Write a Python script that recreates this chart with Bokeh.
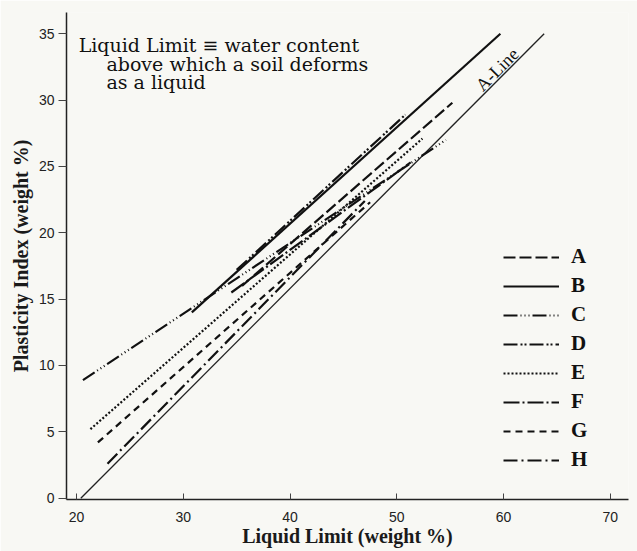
from bokeh.plotting import figure
from bokeh.models import Range1d, Label, Legend, LegendItem, FixedTicker
from bokeh.embed import file_html
from bokeh.resources import INLINE

# ---- data ----
series = ["A", "B", "C", "D", "E", "F", "G", "H"]
ll_start = [35.5, 30.8, 20.6, 35.0, 21.3, 34.5, 22.0, 22.9]
pi_start = [16.0, 14.0, 8.9, 17.2, 5.2, 15.5, 4.2, 2.6]
ll_end = [55.2, 59.7, 54.6, 50.8, 52.4, 51.3, 47.5, 47.0]
pi_end = [29.8, 35.0, 27.0, 28.9, 27.1, 25.3, 22.3, 22.4]
aline_ll = [20.4, 63.8]
aline_pi = [0.0, 35.0]
x_ticks = [20, 30, 40, 50, 60, 70]
y_ticks = [0, 5, 10, 15, 20, 25, 30, 35]

dashes = ["12 4", "solid", "14 3 1 3 1 3 1 3", "14 3 2 2 2 3",
          "2 2", "16 3 2 3", "7 5", "14 4 2 4"]

BG = "#f8f8f4"
SERIF = "Liberation Serif"
SANS = "Liberation Sans"

p = figure(width=637, height=551, output_backend="svg", toolbar_location=None,
           x_range=Range1d(19.06, 71.7), y_range=Range1d(-0.1, 36.6),
           min_border_left=66, min_border_right=9, min_border_top=12,
           min_border_bottom=52)
p.background_fill_color = BG
p.border_fill_color = BG
p.outline_line_color = None
p.grid.visible = False

p.xaxis.ticker = FixedTicker(ticks=x_ticks)
p.yaxis.ticker = FixedTicker(ticks=y_ticks)
p.xaxis.minor_tick_line_color = None
p.yaxis.minor_tick_line_color = None
p.xaxis.major_tick_in = 6
p.xaxis.major_tick_out = 0
p.yaxis.major_tick_in = 0
p.yaxis.major_tick_out = 8
for ax in (p.xaxis, p.yaxis):
    ax.axis_line_color = "#222222"
    ax.axis_line_width = 1.5
    ax.major_tick_line_color = "#444444"
    ax.major_label_text_font = SANS
    ax.major_label_text_font_size = "14px"
    ax.major_label_text_color = "#222222"
    ax.axis_label_text_font = SERIF
    ax.axis_label_text_font_style = "bold"
    ax.axis_label_text_font_size = "20px"
    ax.axis_label_text_color = "#1a1a1a"
p.xaxis.major_label_standoff = 12
p.yaxis.major_label_standoff = 4
p.xaxis.axis_label = "Liquid Limit (weight %)"
p.yaxis.axis_label = "Plasticity Index (weight %)"
p.xaxis.axis_label_standoff = 0
p.yaxis.axis_label_standoff = 4

# A-line
p.line(aline_ll, aline_pi, line_color="#222222", line_width=1.3)

items = []
for i, name in enumerate(series):
    r = p.line([ll_start[i], ll_end[i]], [pi_start[i], pi_end[i]],
               line_color="#111111", line_width=2.2, line_dash=dashes[i])
    items.append(LegendItem(label=name, renderers=[r]))

legend = Legend(items=items, location=(437, 27), glyph_width=56,
                glyph_height=20, label_height=20, spacing=4, padding=0,
                label_standoff=12, background_fill_alpha=0,
                border_line_color=None, label_text_font=SERIF,
                label_text_font_style="bold", label_text_font_size="21px",
                label_text_color="#111111")
p.add_layout(legend)

# A-Line label
p.add_layout(Label(x=59.4, y=32.3, text="A-Line", angle=45, angle_units="deg",
                   text_align="center", text_baseline="middle",
                   text_font=SERIF, text_font_size="18px", text_color="#111111"))

# Definition text
TF = "DejaVu Serif"
p.add_layout(Label(x=20.2, y=34.15, text="Liquid Limit \u2261 water content",
                   text_font=TF, text_font_size="19px", text_color="#111111",
                   text_baseline="alphabetic"))
p.add_layout(Label(x=22.8, y=32.75, text="above which a soil deforms",
                   text_font=TF, text_font_size="19px", text_color="#111111",
                   text_baseline="alphabetic"))
p.add_layout(Label(x=22.8, y=31.35, text="as a liquid",
                   text_font=TF, text_font_size="19px", text_color="#111111",
                   text_baseline="alphabetic"))

open("out.html", "w").write(file_html(p, INLINE))
